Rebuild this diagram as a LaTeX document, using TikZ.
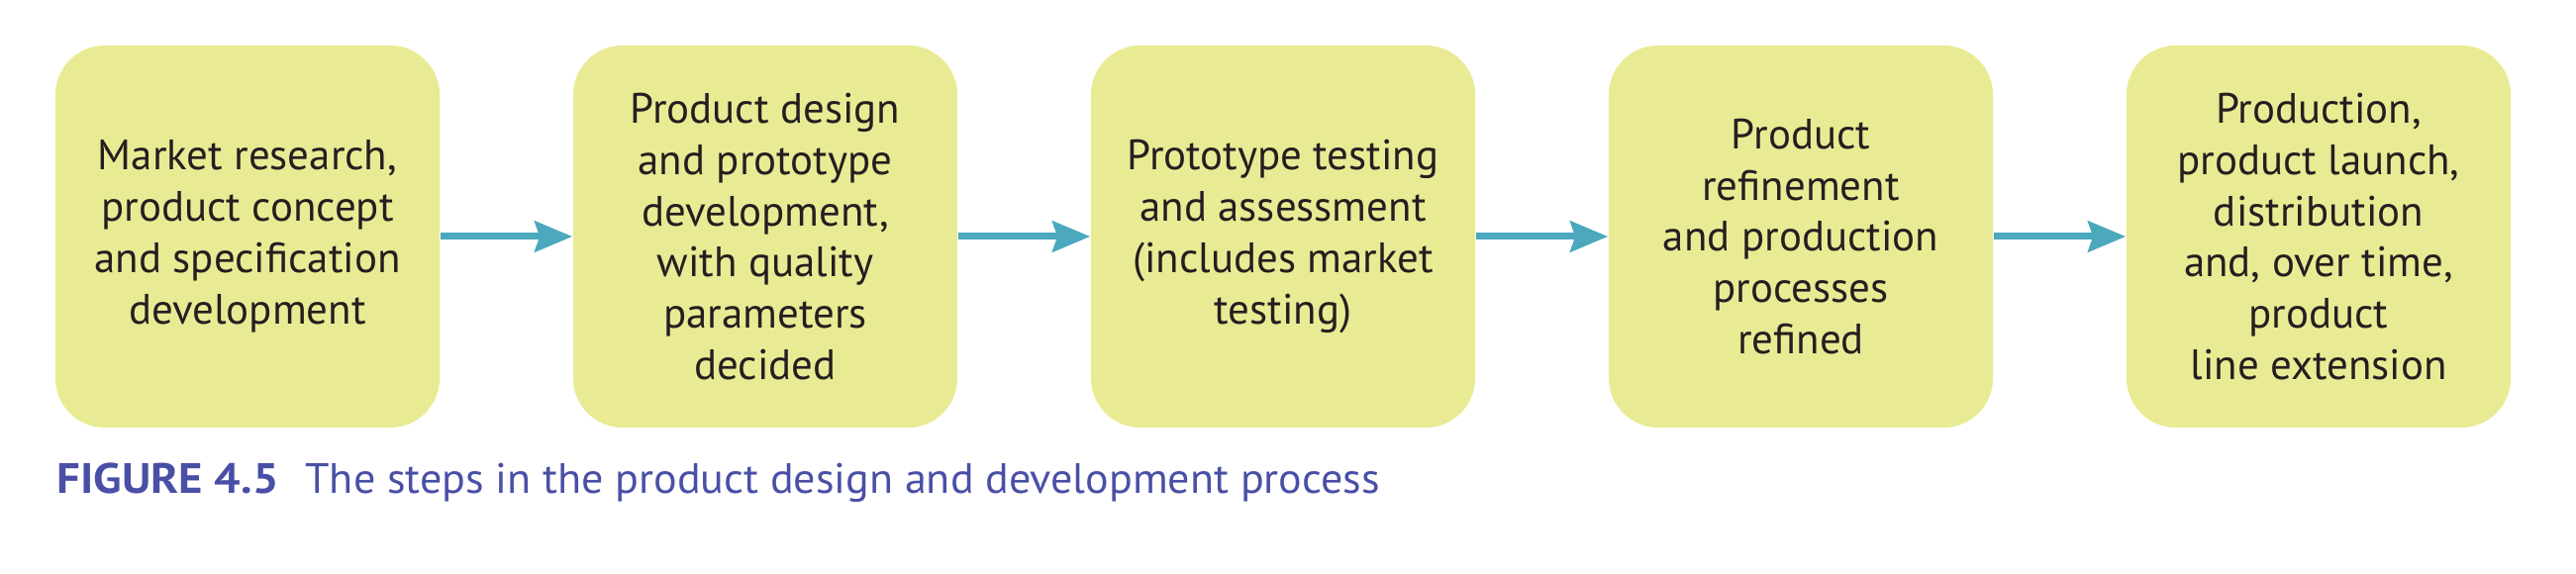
\documentclass[tikz,border=0pt]{standalone}
\usepackage{fontspec}
\setmainfont{PT Sans}
\usetikzlibrary{arrows.meta}
\definecolor{boxfill}{HTML}{E9EB94}
\definecolor{arrowcol}{HTML}{4BA8BD}
\definecolor{capcol}{HTML}{4A4FA6}
\definecolor{txtcol}{HTML}{231F20}
\tikzset{
  stepbox/.style={rectangle, rounded corners=0.5cm, fill=boxfill, draw=none,
    minimum width=3.88cm, minimum height=3.86cm, inner sep=0pt, align=center,
    text=txtcol, font=\fontsize{12.2}{14.74}\selectfont},
  flow/.style={draw=arrowcol, line width=0.07cm,
    -{Stealth[length=0.38cm, width=0.31cm, inset=0.05cm]}},
  captext/.style={anchor=base west, inner sep=0pt, text=capcol,
    font=\fontsize{12.2}{14.74}\selectfont}
}
\begin{document}
\begin{tikzpicture}[x=0.01cm, y=-0.01cm]
\useasboundingbox (0,0) rectangle (2602,580);
\node[stepbox] (b1) at (250,239) {Market research,\\product concept\\and specification\\development};
\node[stepbox] (b2) at (773,239) {Product design\\and prototype\\development,\\with quality\\parameters\\decided};
\node[stepbox] (b3) at (1296,239) {Prototype testing\\and assessment\\(includes market\\testing)};
\node[stepbox] (b4) at (1819,239) {Product\\refinement\\and production\\processes\\refined};
\node[stepbox] (b5) at (2342,239) {Production,\\product launch,\\distribution\\and, over time,\\product\\line extension};
\draw[flow] (b1.east) -- (b2.west);
\draw[flow] (b2.east) -- (b3.west);
\draw[flow] (b3.east) -- (b4.west);
\draw[flow] (b4.east) -- (b5.west);
\node[captext] (cap) at (57,499) {{\bfseries\addfontfeature{FakeStretch=1.09}FIGURE 4.5}\hspace{0.27cm}{\addfontfeature{FakeStretch=1.027}The steps in the product design and development process}};
\end{tikzpicture}
\end{document}
